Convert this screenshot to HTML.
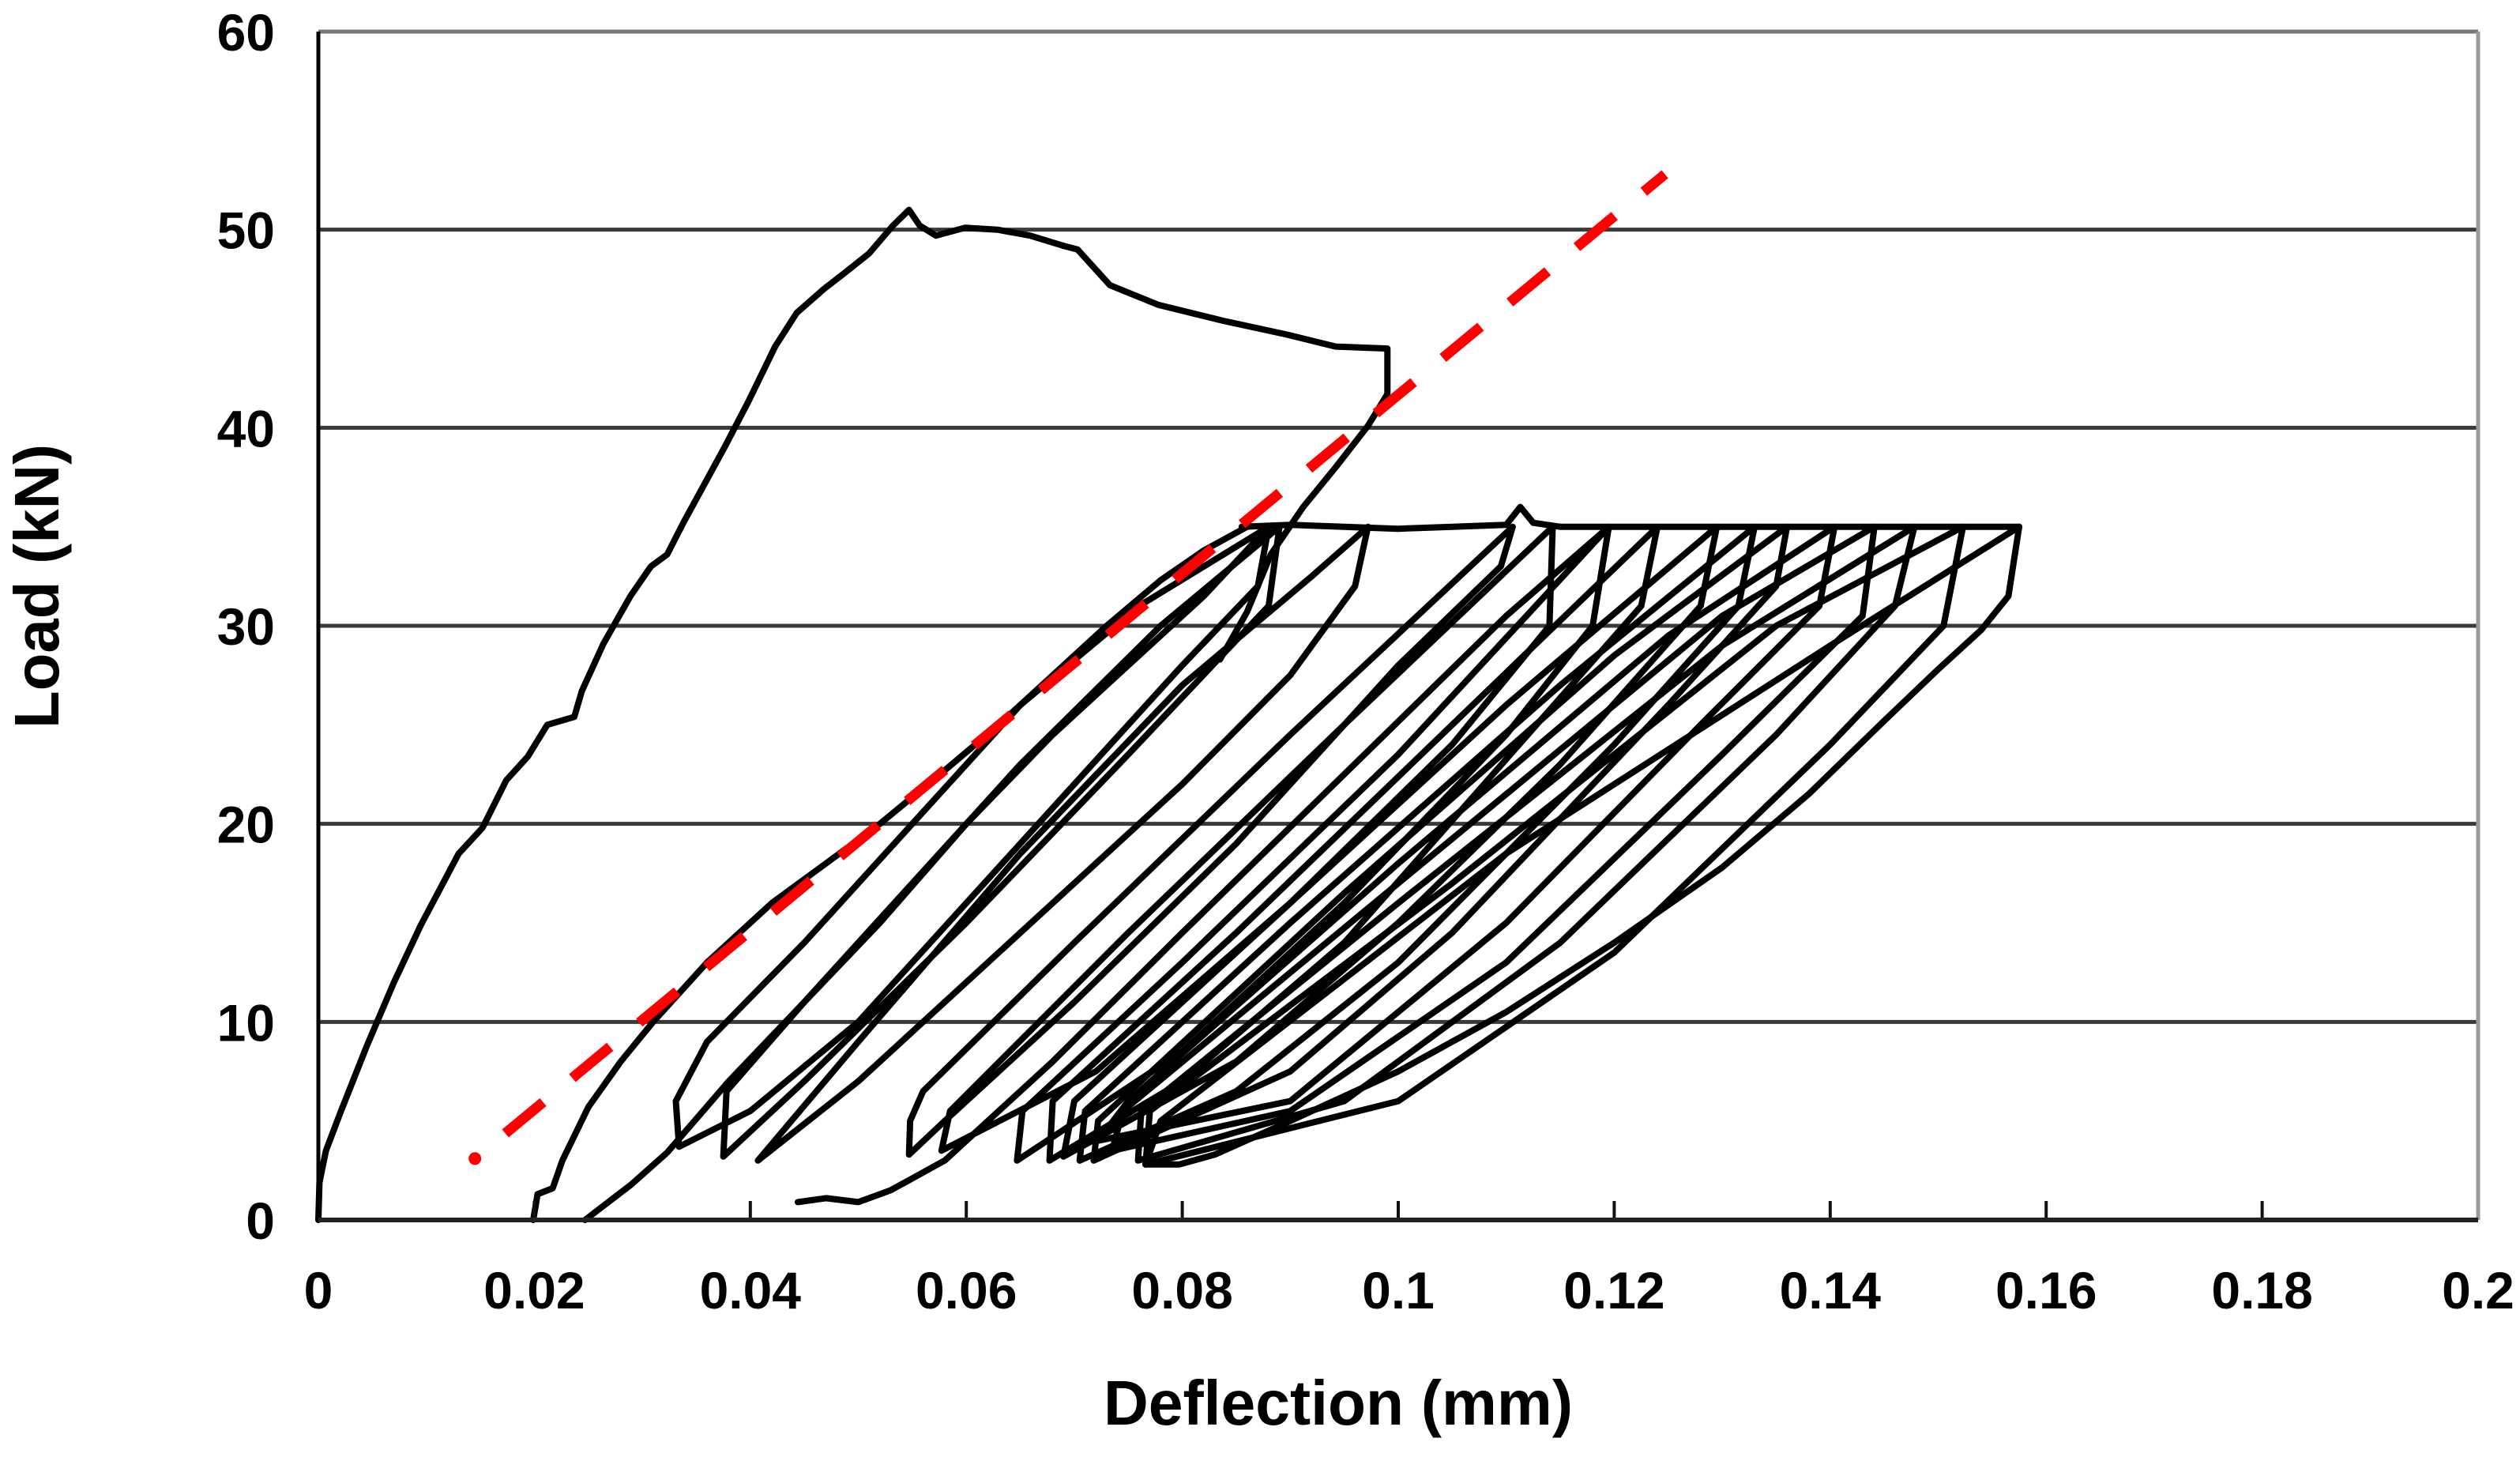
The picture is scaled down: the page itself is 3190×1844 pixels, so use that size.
<!DOCTYPE html>
<html><head><meta charset="utf-8">
<style>
html,body{margin:0;padding:0;background:#fff;}
svg{display:block;}
text{font-family:"Liberation Sans",Arial,sans-serif;font-weight:bold;fill:#000;}
</style></head>
<body>
<svg id="chart" width="3190" height="1844" viewBox="0 0 3190 1844" xmlns="http://www.w3.org/2000/svg">
<g id="grid"></g>
<g id="series"></g>
<g id="axes"></g>
<text x="1694" y="1803" font-size="80" text-anchor="middle" textLength="594" lengthAdjust="spacingAndGlyphs">Deflection (mm)</text>
<text transform="translate(74,742) rotate(-90)" font-size="80" text-anchor="middle" textLength="360" lengthAdjust="spacingAndGlyphs">Load (kN)</text>
</svg>
<script>
const xTicks = [0,0.02,0.04,0.06,0.08,0.1,0.12,0.14,0.16,0.18,0.2];
const xTickLabels = ["0","0.02","0.04","0.06","0.08","0.1","0.12","0.14","0.16","0.18","0.2"];
const yTicks = [0,10,20,30,40,50,60];
const yTickLabels = ["0","10","20","30","40","50","60"];

const virginCurve = [[0,0],[0.0001,1.9],[0.0007,3.5],[0.0021,5.5],[0.0045,8.8],[0.007,12.0],[0.0095,14.9],[0.013,18.5],[0.0152,19.8],[0.0174,22.2],[0.0194,23.4],[0.0212,25.0],[0.0237,25.4],[0.0244,26.7],[0.0264,29.1],[0.0289,31.5],[0.0308,33.0],[0.0323,33.6],[0.0338,35.2],[0.0358,37.2],[0.0376,39.0],[0.0398,41.3],[0.0423,44.1],[0.0443,45.8],[0.0468,47.0],[0.0487,47.8],[0.051,48.8],[0.0532,50.2],[0.0547,51.0],[0.0557,50.2],[0.0572,49.7],[0.0599,50.1],[0.0629,50.0],[0.0659,49.7],[0.0689,49.2],[0.0703,49.0],[0.0733,47.2],[0.0778,46.2],[0.0838,45.4],[0.0897,44.7],[0.0942,44.1],[0.099,44.0],[0.099,41.7],[0.0972,40.1],[0.0942,38.0],[0.0912,36.0],[0.0882,33.6],[0.086,30.7],[0.0835,28.3]];
const plateau = [[0.0855,35],[0.09,35.1],[0.095,35],[0.1,34.9],[0.105,35],[0.11,35.1],[0.1113,36],[0.1125,35.2],[0.115,35],[0.13,35],[0.1575,35]];
const branchA = [[0.0199,0],[0.0203,1.3],[0.0217,1.6],[0.0226,3],[0.025,5.7],[0.028,8],[0.031,10],[0.036,13],[0.042,16],[0.047,18],[0.052,20],[0.058,22.7],[0.063,25],[0.068,27.5],[0.073,30],[0.078,32.3],[0.082,33.8],[0.086,35]];
const branchB = [[0.0247,0],[0.029,1.8],[0.0323,3.4],[0.038,7],[0.045,11],[0.052,15],[0.06,20],[0.068,24.5],[0.075,28],[0.082,31.5],[0.088,35]];
const branchBottom = [[0.0444,0.9],[0.047,1.1],[0.05,0.9],[0.053,1.5],[0.058,3],[0.068,8],[0.08,14.5],[0.095,22.5],[0.11,30.5],[0.1195,35]];
const loop1 = [[0.0334,3.7],[0.0331,6],[0.036,9],[0.045,14],[0.055,20],[0.065,26],[0.076,31],[0.088,35],[0.087,32],[0.08,28],[0.065,19],[0.05,10],[0.04,5.5],[0.0334,3.7]];
const loop2 = [[0.0375,3.2],[0.0378,6.5],[0.045,11],[0.055,17],[0.065,23],[0.078,30],[0.089,35],[0.088,31],[0.075,23.5],[0.06,15],[0.045,7],[0.0375,3.2]];
const loop3 = [[0.0407,3],[0.05,9],[0.065,18.5],[0.08,27],[0.092,32.5],[0.0972,35],[0.096,32],[0.09,27.5],[0.08,22],[0.06,12],[0.05,7],[0.0407,3]];
const loop5 = [[0.0547,3.3],[0.0548,5],[0.056,6.5],[0.07,14],[0.09,24.5],[0.1106,35],[0.1095,33],[0.1,28],[0.085,19],[0.07,11],[0.058,5],[0.0547,3.3]];
const loop6 = [[0.0577,3.5],[0.0585,5.5],[0.075,14.5],[0.095,25],[0.1143,35],[0.114,30],[0.105,24],[0.09,16],[0.072,7.5],[0.0577,3.5]];
const loop7 = [[0.0647,3],[0.0652,5.5],[0.08,13],[0.1,23.5],[0.1195,35],[0.118,30],[0.11,24.5],[0.095,16],[0.08,8.5],[0.0647,3]];
const loop8 = [[0.0677,3],[0.068,6],[0.085,14.5],[0.105,25],[0.124,35],[0.1225,31],[0.112,24.5],[0.095,14],[0.08,7],[0.0677,3]];
const loop9 = [[0.069,3.2],[0.07,6],[0.09,16],[0.11,26],[0.1295,35],[0.128,31],[0.115,23],[0.1,15],[0.085,8],[0.069,3.2]];
const loop10 = [[0.0705,3],[0.071,5.5],[0.09,15],[0.115,27],[0.133,35],[0.1315,31],[0.12,24],[0.1,13],[0.085,6.5],[0.0705,3]];
const loop11 = [[0.0718,3],[0.0722,5],[0.095,16.5],[0.12,28.5],[0.136,35],[0.135,32],[0.125,26],[0.105,14.5],[0.09,7.5],[0.0718,3]];
const loop12 = [[0.0722,4],[0.075,6],[0.1,18],[0.125,29.5],[0.1404,35],[0.139,31],[0.128,25],[0.11,15],[0.09,6],[0.0722,4]];
const loop13 = [[0.0735,3.5],[0.0745,5.5],[0.1,17],[0.13,30.5],[0.1441,35],[0.143,30.5],[0.13,23.5],[0.11,13],[0.09,5.5],[0.0735,3.5]];
const loop14 = [[0.0759,3],[0.0762,5.5],[0.1,16],[0.13,29],[0.1478,35],[0.146,31],[0.135,24.5],[0.115,14],[0.095,6],[0.0759,3]];
const loop15 = [[0.0766,2.8],[0.077,5.5],[0.105,17],[0.135,30],[0.1523,35],[0.1505,30],[0.14,24],[0.12,13.5],[0.1,6],[0.0766,2.8]];
const lastLoading = [[0.0766,2.8],[0.078,5],[0.11,18.5],[0.14,29],[0.1575,35]];
const envelopeUnload = [[0.1575,35],[0.1565,31.5],[0.154,29.8],[0.15,27.8],[0.145,25.2],[0.138,21.5],[0.13,17.8],[0.12,14],[0.11,10.5],[0.1,7.5],[0.09,5],[0.083,3.3],[0.0797,2.8],[0.0766,2.8]];
const stiffnessLine = [[0.0145,3.1],[0.1247,52.8]];

const NS = "http://www.w3.org/2000/svg";
const X0 = 403, X1 = 3137, Y0 = 1544, Y1 = 40;
function sx(v){ return X0 + (v - 0) / 0.2 * (X1 - X0); }
function sy(v){ return Y0 - (v - 0) / 60 * (Y0 - Y1); }
function mk(tag, parent){ const e = document.createElementNS(NS, tag); parent.appendChild(e); return e; }

const grid = document.getElementById('grid');
const axes = document.getElementById('axes');
const series = document.getElementById('series');

yTicks.forEach((t, i) => {
  if (t > 0) {
    const l = mk('line', grid);
    
    
    l.setAttribute('x1', X0); l.setAttribute('x2', X1);
    l.setAttribute('y1', sy(t)); l.setAttribute('y2', sy(t));
    l.setAttribute('stroke', '#3a3a3a'); l.setAttribute('stroke-width', '5');
  }
  const tx = mk('text', axes);
  
  
  tx.setAttribute('x', 348); tx.setAttribute('y', sy(t) + 24);
  tx.setAttribute('font-size', '66'); tx.setAttribute('text-anchor', 'end');
  tx.textContent = yTickLabels[i];
});

xTicks.forEach((t, i) => {
  const tk = mk('line', axes);
  
  
  tk.setAttribute('x1', sx(t)); tk.setAttribute('x2', sx(t));
  tk.setAttribute('y1', Y0); tk.setAttribute('y2', Y0 - 24);
  tk.setAttribute('stroke', '#111'); tk.setAttribute('stroke-width', '4');
  const tx = mk('text', axes);
  
  
  tx.setAttribute('x', sx(t)); tx.setAttribute('y', 1656);
  tx.setAttribute('font-size', '66'); tx.setAttribute('text-anchor', 'middle');
  tx.textContent = xTickLabels[i];
});

const frameT = mk('line', axes);


frameT.setAttribute('x1', X0); frameT.setAttribute('x2', X1); frameT.setAttribute('y1', Y1); frameT.setAttribute('y2', Y1);
frameT.setAttribute('stroke', '#777'); frameT.setAttribute('stroke-width', '5');
const frameR = mk('line', axes);


frameR.setAttribute('x1', X1); frameR.setAttribute('x2', X1); frameR.setAttribute('y1', Y1); frameR.setAttribute('y2', Y0);
frameR.setAttribute('stroke', '#999'); frameR.setAttribute('stroke-width', '5');
const axY = mk('line', axes);


axY.setAttribute('x1', X0); axY.setAttribute('x2', X0); axY.setAttribute('y1', Y1); axY.setAttribute('y2', Y0);
axY.setAttribute('stroke', '#000'); axY.setAttribute('stroke-width', '5');
const axX = mk('line', axes);


axX.setAttribute('x1', X0); axX.setAttribute('x2', X1); axX.setAttribute('y1', Y0); axX.setAttribute('y2', Y0);
axX.setAttribute('stroke', '#222'); axX.setAttribute('stroke-width', '6');

function drawPath(pts, name, color, width, dash){
  const p = mk('path', series);
  
  
  p.setAttribute('d', pts.map((q, i) => (i ? 'L' : 'M') + sx(q[0]).toFixed(1) + ',' + sy(q[1]).toFixed(1)).join(' '));
  p.setAttribute('fill', 'none');
  p.setAttribute('stroke', color);
  p.setAttribute('stroke-width', width);
  p.setAttribute('stroke-linejoin', 'round');
  p.setAttribute('stroke-linecap', dash ? 'butt' : 'round');
  if (dash) p.setAttribute('stroke-dasharray', dash);
  return p;
}

const curves = [
  [virginCurve, 'virgin-loading-curve'], [plateau, 'plateau-35kn'],
  [branchA, 'reload-branch-a'], [branchB, 'reload-branch-b'], [branchBottom, 'reload-branch-bottom'],
  [loop1, 'cycle-1'], [loop2, 'cycle-2'], [loop3, 'cycle-3'], [loop5, 'cycle-5'], [loop6, 'cycle-6'],
  [loop7, 'cycle-7'], [loop8, 'cycle-8'], [loop9, 'cycle-9'], [loop10, 'cycle-10'], [loop11, 'cycle-11'],
  [loop12, 'cycle-12'], [loop13, 'cycle-13'], [loop14, 'cycle-14'], [loop15, 'cycle-15'],
  [lastLoading, 'final-loading'], [envelopeUnload, 'final-unloading']
];
curves.forEach(c => drawPath(c[0], c[1], '#000', 8, null));

const dot = mk('circle', series);


dot.setAttribute('cx', sx(stiffnessLine[0][0])); dot.setAttribute('cy', sy(stiffnessLine[0][1]));
dot.setAttribute('r', '8'); dot.setAttribute('fill', '#ff0000');
const sl = drawPath(stiffnessLine, 'stiffness-dashed-line', '#ff0000', 13, '62 48');
sl.setAttribute('stroke-dashoffset', '-50');
</script>
</body></html>
